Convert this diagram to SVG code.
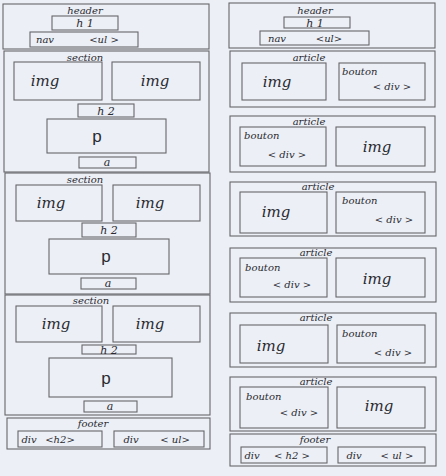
<svg xmlns="http://www.w3.org/2000/svg" width="446" height="476" viewBox="0 0 446 476">
<style>
.b{fill:none;stroke:#66666c;stroke-width:1.1}
text{font-family:"DejaVu Serif","Liberation Serif",serif;font-style:italic;fill:#2a2a30;text-anchor:middle}
.l{font-size:10px}
.s{font-size:11px}
.i{font-size:15px}
.p{font-size:17px;font-style:normal;font-family:"Liberation Sans",sans-serif}
.st{text-anchor:start}
</style>
<rect width="446" height="476" fill="#eceff6"/>
<g id="left-header">
<rect class="b" x="3" y="4" width="206" height="45"/>
<text class="l" x="85" y="14">header</text>
<rect class="b" x="52" y="16" width="66" height="14"/><text class="s" x="85" y="27">h 1</text>
<rect class="b" x="30" y="32" width="108" height="15"/><text class="l" x="45" y="43">nav</text><text class="l" x="104" y="43">&lt;ul &gt;</text>
</g>
<g id="left-section1">
<rect class="b" x="4" y="51" width="205" height="121"/>
<text class="l" x="85" y="61">section</text>
<rect class="b" x="14" y="62" width="88" height="38"/><text class="i" x="45" y="86">img</text>
<rect class="b" x="112" y="62" width="88" height="38"/><text class="i" x="155" y="86">img</text>
<rect class="b" x="78" y="104" width="56" height="13"/><text class="s" x="106" y="115">h 2</text>
<rect class="b" x="47" y="119" width="119" height="34"/><text class="p" x="97" y="142">p</text>
<rect class="b" x="79" y="157" width="57" height="11"/><text class="s" x="107" y="166">a</text>
</g>
<g id="left-section2">
<rect class="b" x="5" y="173" width="205" height="121"/>
<text class="l" x="85" y="183">section</text>
<rect class="b" x="16" y="185" width="86" height="36"/><text class="i" x="51" y="208">img</text>
<rect class="b" x="113" y="185" width="87" height="36"/><text class="i" x="150" y="208">img</text>
<rect class="b" x="82" y="223" width="54" height="14"/><text class="s" x="109" y="234">h 2</text>
<rect class="b" x="49" y="239" width="120" height="35"/><text class="p" x="106" y="262">p</text>
<rect class="b" x="81" y="278" width="55" height="11"/><text class="s" x="108" y="287">a</text>
</g>
<g id="left-section3">
<rect class="b" x="5" y="295" width="205" height="120"/>
<text class="l" x="91" y="304">section</text>
<rect class="b" x="16" y="306" width="86" height="36"/><text class="i" x="56" y="329">img</text>
<rect class="b" x="113" y="306" width="87" height="36"/><text class="i" x="150" y="329">img</text>
<rect class="b" x="82" y="345" width="54" height="9"/><text class="s" x="109" y="354">h 2</text>
<rect class="b" x="49" y="358" width="123" height="39"/><text class="p" x="106" y="384">p</text>
<rect class="b" x="84" y="401" width="53" height="11"/><text class="s" x="110" y="410">a</text>
</g>
<g id="left-footer">
<rect class="b" x="7" y="418" width="203" height="31"/>
<text class="l" x="93" y="427">footer</text>
<rect class="b" x="18" y="431" width="84" height="16"/><text class="l" x="29" y="443">div</text><text class="l" x="60" y="443">&lt;h2&gt;</text>
<rect class="b" x="114" y="431" width="90" height="16"/><text class="l" x="131" y="443">div</text><text class="l" x="175" y="443">&lt; ul&gt;</text>
</g>
<g id="right-header">
<rect class="b" x="229" y="3" width="206" height="45"/>
<text class="l" x="315" y="14">header</text>
<rect class="b" x="284" y="17" width="66" height="11"/><text class="s" x="315" y="27">h 1</text>
<rect class="b" x="260" y="31" width="109" height="14"/><text class="l" x="277" y="42">nav</text><text class="l" x="329" y="42">&lt;ul&gt;</text>
</g>
<g id="article1">
<rect class="b" x="230" y="51" width="205" height="56"/>
<text class="l" x="309" y="61">article</text>
<rect class="b" x="242" y="63" width="84" height="37"/><text class="i" x="277" y="87">img</text>
<rect class="b" x="339" y="63" width="86" height="37"/><text class="l st" x="342" y="75">bouton</text><text class="l" x="392" y="90">&lt; div &gt;</text>
</g>
<g id="article2">
<rect class="b" x="230" y="116" width="205" height="56"/>
<text class="l" x="309" y="125">article</text>
<rect class="b" x="240" y="127" width="86" height="39"/><text class="l st" x="244" y="139">bouton</text><text class="l" x="287" y="158">&lt; div &gt;</text>
<rect class="b" x="336" y="127" width="89" height="39"/><text class="i" x="377" y="152">img</text>
</g>
<g id="article3">
<rect class="b" x="230" y="182" width="206" height="54"/>
<text class="l" x="318" y="190">article</text>
<rect class="b" x="240" y="192" width="87" height="41"/><text class="i" x="276" y="217">img</text>
<rect class="b" x="336" y="192" width="89" height="41"/><text class="l st" x="342" y="204">bouton</text><text class="l" x="394" y="223">&lt; div &gt;</text>
</g>
<g id="article4">
<rect class="b" x="230" y="248" width="206" height="54"/>
<text class="l" x="316" y="256">article</text>
<rect class="b" x="240" y="258" width="87" height="39"/><text class="l st" x="245" y="271">bouton</text><text class="l" x="292" y="288">&lt; div &gt;</text>
<rect class="b" x="336" y="258" width="89" height="39"/><text class="i" x="377" y="284">img</text>
</g>
<g id="article5">
<rect class="b" x="230" y="313" width="206" height="54"/>
<text class="l" x="316" y="321">article</text>
<rect class="b" x="240" y="325" width="88" height="38"/><text class="i" x="271" y="351">img</text>
<rect class="b" x="337" y="325" width="88" height="38"/><text class="l st" x="342" y="337">bouton</text><text class="l" x="393" y="356">&lt; div &gt;</text>
</g>
<g id="article6">
<rect class="b" x="230" y="377" width="206" height="54"/>
<text class="l" x="316" y="385">article</text>
<rect class="b" x="240" y="387" width="88" height="41"/><text class="l st" x="246" y="400">bouton</text><text class="l" x="299" y="416">&lt; div &gt;</text>
<rect class="b" x="337" y="387" width="88" height="41"/><text class="i" x="379" y="411">img</text>
</g>
<g id="right-footer">
<rect class="b" x="230" y="434" width="206" height="32"/>
<text class="l" x="315" y="443">footer</text>
<rect class="b" x="241" y="447" width="86" height="16"/><text class="l" x="252" y="459">div</text><text class="l" x="292" y="459">&lt; h2 &gt;</text>
<rect class="b" x="338" y="447" width="87" height="16"/><text class="l" x="354" y="459">div</text><text class="l" x="397" y="459">&lt; ul &gt;</text>
</g>
<g id="connectors"/>
</svg>
